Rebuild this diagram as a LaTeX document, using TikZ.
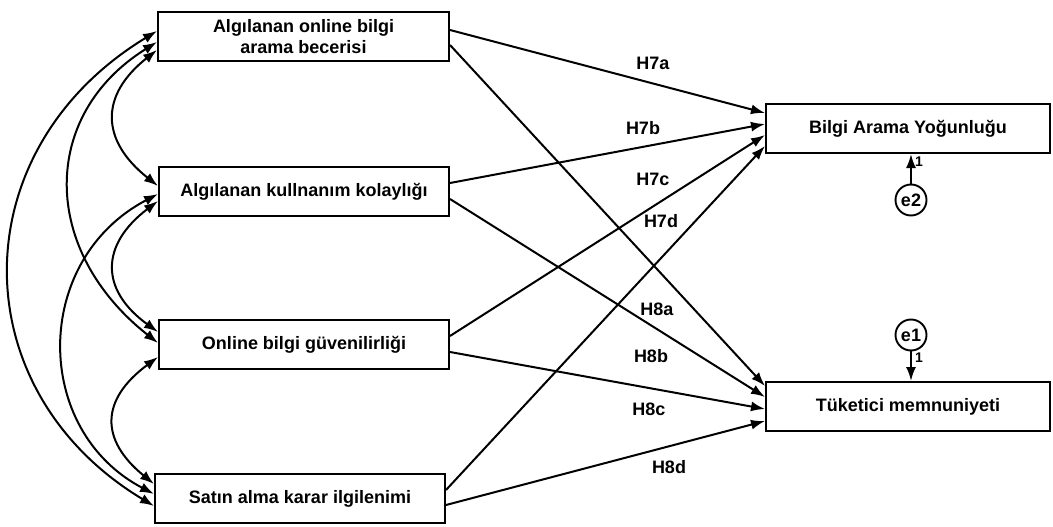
\documentclass[tikz,border=0pt]{standalone}
\usepackage{fontspec}
\setmainfont{Liberation Sans}
\usetikzlibrary{arrows.meta,calc}
\begin{document}
\begin{tikzpicture}[x=1pt,y=-1pt,
  box/.style={draw, line width=2pt, minimum height=49pt, inner sep=0pt,
    font=\fontsize{18}{21}\selectfont\bfseries, align=center},
  err/.style={draw, circle, line width=1.9pt, minimum size=31pt, inner sep=0pt,
    font=\fontsize{18}{21}\selectfont\bfseries},
  causal/.style={line width=2pt, -{Latex[length=14pt,width=10pt]}},
  cov/.style={line width=2pt, {Latex[length=14pt,width=10pt]}-{Latex[length=14pt,width=10pt]}},
  hlab/.style={font=\fontsize{18}{21}\selectfont\bfseries, inner sep=0pt},
  one/.style={font=\fontsize{14}{16}\selectfont\bfseries, inner sep=0pt}]
\useasboundingbox (0,0) rectangle (1053,527);

\node[box, minimum width=291pt] (A) at (303.5,36.5) {Algılanan online bilgi\\arama becerisi};
\node[box, minimum width=290pt] (B) at (304,191.5) {Algılanan kullnanım kolaylığı};
\node[box, minimum width=290pt] (C) at (304,344.5) {Online bilgi güvenilirliği};
\node[box, minimum width=290pt] (D) at (300,498.5) {Satın alma karar ilgilenimi};
\node[box, minimum width=284pt] (Y) at (908,128.5) {Bilgi Arama Yoğunluğu};
\node[box, minimum width=284pt] (T) at (908,406.5) {Tüketici memnuniyeti};
\node[err] (e2) at (911,200) {e2};
\node[err] (e1) at (911,335) {e1};

% causal paths
\draw[causal] ([yshift=6.5pt]A.east) -- ([yshift=15.5pt]Y.west);
\draw[causal] ([yshift=-8.5pt]A.east) -- ([yshift=20.5pt]T.west);
\draw[causal] ([yshift=8.5pt]B.east) -- ([yshift=4.5pt]Y.west);
\draw[causal] ([yshift=-7.5pt]B.east) -- ([yshift=9.5pt]T.west);
\draw[causal] ([yshift=8.5pt]C.east) -- ([yshift=-6.5pt]Y.west);
\draw[causal] ([yshift=-7.5pt]C.east) -- ([yshift=-2.5pt]T.west);
\draw[causal] ([yshift=8.5pt]D.east) -- ([yshift=-17.5pt]Y.west);
\draw[causal] ([yshift=-6.5pt]D.east) -- ([yshift=-14.5pt]T.west);

\node[hlab] (h7a) at (653,63) {H7a};
\node[hlab] (h7b) at (643,128) {H7b};
\node[hlab] (h7c) at (653,179) {H7c};
\node[hlab] (h7d) at (661,221) {H7d};
\node[hlab] (h8a) at (657,309) {H8a};
\node[hlab] (h8b) at (651,356) {H8b};
\node[hlab] (h8c) at (649,409) {H8c};
\node[hlab] (h8d) at (669,467) {H8d};

% covariances
\draw[cov] ([yshift=5.5pt]A.west) .. controls (-39,150) and (-39,390) .. ([yshift=-7.5pt]D.west);
\draw[cov] ([yshift=-5.5pt]A.west) .. controls (40,115) and (40,250) .. ([yshift=1.5pt]C.west);
\draw[cov] ([yshift=-13.5pt]A.west) .. controls (100,95) and (100,140) .. ([yshift=5.5pt]B.west);
\draw[cov] ([yshift=-2.5pt]B.west) .. controls (32,260) and (32,430) .. ([yshift=4.5pt]D.west);
\draw[cov] ([yshift=-9.5pt]B.west) .. controls (100,245) and (100,290) .. ([yshift=12.5pt]C.west);
\draw[cov] ([yshift=-12.5pt]C.west) .. controls (100,400) and (100,440) .. ([yshift=14.5pt]D.west);

% error terms
\draw[causal] (e2) -- (e2 |- Y.south);
\draw[causal] (e1) -- (e1 |- T.north);
\node[one] (w2) at (919,162) {1};
\node[one] (w1) at (919,358) {1};
\end{tikzpicture}
\end{document}
